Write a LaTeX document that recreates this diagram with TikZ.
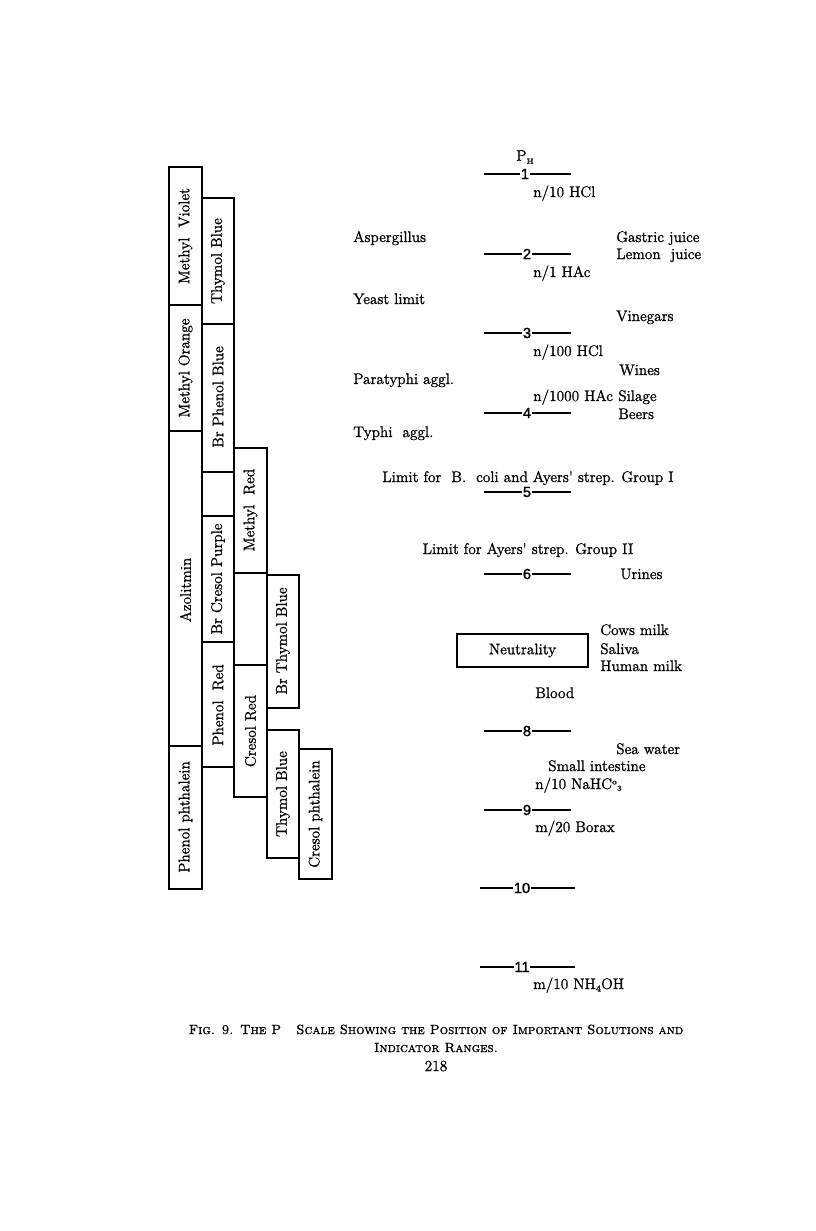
\documentclass[tikz,border=0pt]{standalone}
\usepackage{fontspec}
\newfontfamily\hvf{Latin Modern Roman}[FakeBold=1.2]
\newfontfamily\hvcaps{Latin Modern Roman Caps}[FakeBold=1.2]
\newfontfamily\numfam{Liberation Sans}[FakeBold=1.5]
\newcommand{\lbl}{\hvf\fontsize{11.5}{13}\selectfont}
\newcommand{\numf}{\numfam\fontsize{11}{12}\selectfont}
\newcommand{\capf}{\hvcaps\fontsize{10}{12}\selectfont}
\begin{document}
\begin{tikzpicture}[x=0.75pt,y=-0.75pt,
  indbox/.style={draw, line width=1.1pt},
  vlab/.style={rotate=90, font=\lbl, inner sep=0pt},
  lt/.style={anchor=base west, inner sep=0pt, font=\lbl},
  ct/.style={anchor=base, inner sep=0pt, font=\lbl},
  num/.style={inner sep=0.3pt, font=\numf},
  tickline/.style={line width=1.2pt},
  neut/.style={draw, line width=1.1pt, minimum width=98pt, minimum height=24.75pt, font=\lbl, inner sep=0pt}]
\useasboundingbox (0,0) rectangle (816,1231);

% ---- indicator ranges ----
% column 1
\draw[indbox] (169,167) rectangle (202,305);
\draw[indbox] (169,305) rectangle (202,431);
\draw[indbox] (169,431) rectangle (202,746);
\draw[indbox] (169,746) rectangle (202,889);
\node[vlab] (mv)  at (185.5,236) {Methyl\ \ Violet};
\node[vlab] (mo)  at (185.5,368) {Methyl Orange};
\node[vlab] (az)  at (185.5,590) {Azolitmin};
\node[vlab] (pp)  at (185.5,817) {Phenol phthalein};
% column 2
\draw[indbox] (202,198) rectangle (234,324);
\draw[indbox] (202,324) rectangle (234,472);
\draw[indbox] (202,516) rectangle (234,642);
\draw[indbox] (202,642) rectangle (234,767);
\draw[indbox] (202,472) -- (202,516);
\node[vlab] (tb1) at (218,261) {Thymol Blue};
\node[vlab] (bpb) at (218,397) {Br Phenol Blue};
\node[vlab] (bcp) at (218,579) {Br Cresol Purple};
\node[vlab] (pr)  at (218,705) {Phenol\ \ Red};
% column 3
\draw[indbox] (234,448) rectangle (267,573);
\draw[indbox] (234,665) rectangle (267,797);
\draw[indbox] (234,573) -- (234,665);
\draw[indbox] (267,573) -- (267,665);
\node[vlab] (mr)  at (250.5,510) {Methyl\ \ Red};
\node[vlab] (cr)  at (250.5,731) {Cresol Red};
% column 4
\draw[indbox] (267,575) rectangle (299,708);
\draw[indbox] (267,730) rectangle (299,858);
\node[vlab] (btb) at (283,641) {Br Thymol Blue};
\node[vlab] (tb2) at (283,794) {Thymol Blue};
% column 5
\draw[indbox] (299,749) rectangle (332,879);
\node[vlab] (cp)  at (315.5,814) {Cresol phthalein};

% ---- pH scale ----
\node[font=\lbl, inner sep=0pt] (ph) at (525,157) {P\raisebox{-0.45ex}{\fontsize{5.5}{6}\selectfont H}};
\foreach \v/\y/\xl/\xr/\xn in {1/174/484/571/525, 2/254/484/571/527, 3/333/484/571/527,
  4/413/484/571/527, 5/492/484/571/527, 6/574/484/571/527, 8/731/484/571/527,
  9/810/484/571/527, 10/888/480/575/522, 11/967/480/575/522}{
  \node[num] (t\v) at (\xn,\y) {\v};
  \coordinate (tl\v) at (\xl,\y);
  \coordinate (tr\v) at (\xr,\y);
  \draw[tickline] (tl\v) -- (t\v.west);
  \draw[tickline] (t\v.east) -- (tr\v);
}
\node[neut] (neutral) at (522.5,650.5) {Neutrality};

% ---- labels ----
\node[lt] (hcl10)  at (533,197) {n/10 HCl};
\node[lt] (asp)    at (353,242) {Aspergillus};
\node[lt] (gas)    at (616,242) {Gastric juice};
\node[lt] (lem)    at (616,259) {Lemon\ \ juice};
\node[lt] (hac1)   at (533,277) {n/1 HAc};
\node[lt] (yeast)  at (353,304) {Yeast limit};
\node[lt] (vin)    at (616,321) {Vinegars};
\node[lt] (hcl100) at (533,356) {n/100 HCl};
\node[lt] (wines)  at (619,375) {Wines};
\node[lt] (para)   at (353,384) {Paratyphi aggl.};
\node[lt] (hac1000) at (533,401) {n/1000 HAc};
\node[lt] (sil)    at (618,401) {Silage};
\node[lt] (beers)  at (618,419) {Beers};
\node[lt] (typhi)  at (353,437) {Typhi\ \ aggl.};
\node[ct] (lim1)   at (528,482) {Limit for\ \ B.\ \ coli and Ayers' strep. Group I};
\node[ct] (lim2)   at (528,554) {Limit for Ayers' strep. Group II};
\node[lt] (urines) at (620,579) {Urines};
\node[lt] (cows)   at (600,635) {Cows milk};
\node[lt] (saliva) at (600,654) {Saliva};
\node[lt] (human)  at (600,671) {Human milk};
\node[lt] (blood)  at (535,698) {Blood};
\node[lt] (sea)    at (616,754) {Sea water};
\node[lt] (smint)  at (548,771) {Small intestine};
\node[lt] (nahc)   at (535,789) {n/10 NaHC\raisebox{0.7ex}{\fontsize{6}{6}\selectfont o}\raisebox{-0.3ex}{\fontsize{6}{6}\selectfont 3}};
\node[lt] (borax)  at (535,832) {m/20 Borax};
\node[lt] (nh4oh)  at (533,989) {m/10 NH\raisebox{-0.4ex}{\fontsize{7}{7}\selectfont 4}OH};

% ---- caption ----
\node[anchor=base, inner sep=0pt, font=\capf] (cap1) at (436,1034) {Fig. 9. The P\ \ \ Scale Showing the Position of Important Solutions and};
\node[anchor=base, inner sep=0pt, font=\capf] (cap2) at (436,1052) {Indicator Ranges.};
\node[anchor=base, inner sep=0pt, font=\lbl] (page) at (436,1071) {218};
\end{tikzpicture}
\end{document}
